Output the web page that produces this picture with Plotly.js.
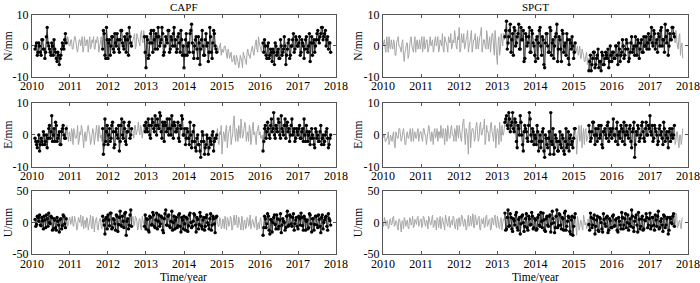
<!DOCTYPE html>
<html><head><meta charset="utf-8">
<script src="https://cdn.plot.ly/plotly-3.0.1.min.js"></script>
<style>html,body{margin:0;padding:0;background:#fff}#c{width:700px;height:283px}</style>
</head><body><div id="c"></div>
<script>
// sampling grid: each series has values at startYear + i*stepYear (A) and at startYear + halfStep + i*stepYear (B)
const startYear = 2010.0, stepYear = 0.04, halfStep = 0.02;
const stations = ['CAPF', 'SPGT'];
const components = ['N/mm', 'E/mm', 'U/mm'];
const xTicks = [2010, 2011, 2012, 2013, 2014, 2015, 2016, 2017, 2018];
// observed (black) periods per station, years
const capfObserved = [[2010.07, 2010.9], [2011.85, 2012.62], [2012.95, 2014.86], [2016.07, 2017.86]];
const spgtObserved = [[2013.19, 2015.05], [2015.39, 2017.65]];

const capfN = [
 null,null,-1,1,-2,0,-3,2,-1,-2,6,0,-2,1,-3,-1,-4,-2,-6,-3,1,-1,4,1,2,
 0,2,-1,3,1,-2,2,0,3,-1,1,2,-2,3,0,1,-1,2,3,-2,1,-1,5,-3,6,
 -4,2,0,3,-2,1,4,-1,2,5,0,3,-2,2,6,1,1,3,-1,4,2,0,5,1,3,
 -7,2,-3,4,1,5,-1,3,6,0,2,4,-2,3,1,5,-1,2,4,0,-2,3,1,5,-3,
 -7,2,-3,1,4,7,-2,0,3,-4,1,-1,5,-3,2,0,-5,6,-2,1,4,-1,0,-1,1,
 -1,-2,0,-3,-1,-4,-2,-5,-3,-6,-4,-7,-3,-5,-2,-4,-6,-1,-3,-2,0,-3,1,-1,3,
 0,-2,1,2,-3,0,-4,-1,-5,-2,1,-3,-1,-4,0,-2,3,-6,-1,2,-3,0,4,-1,2,
 0,3,-2,1,-4,2,-1,0,-5,3,1,-2,2,5,1,4,6,3,5,2,-1,1];
const capfNB = [
 null,null,0,-3,1,-2,2,-1,-4,3,1,-1,-3,0,2,-2,-5,-3,-4,-1,0,2,1,3,0,
 2,-1,1,3,-1,0,2,1,-2,3,0,2,1,-1,2,3,-1,1,2,0,3,-1,4,-4,2,
 1,-3,3,-1,4,0,2,-2,5,1,-1,2,4,-3,3,0,2,4,0,3,1,4,2,5,-2,
 3,-4,1,5,-2,2,4,-1,3,1,6,-3,0,2,5,-2,3,0,6,2,-1,4,-2,2,0,
 -3,4,0,-2,5,1,-4,2,-1,3,-6,2,0,-3,4,1,-2,3,-4,5,0,-2,-2,0,-3,
 -2,0,-1,-4,-2,-3,-5,-4,-6,-3,-5,-6,-4,-7,-3,-5,-2,-3,-4,-1,-2,-1,2,-2,1,
 -1,1,-2,0,-4,1,-3,-2,-1,-6,0,-2,-4,2,-3,-1,0,-3,1,-4,0,2,-2,3,0,
 1,-3,2,0,-1,3,-2,4,1,-3,2,0,4,2,3,6,2,4,0,3,1,-2];
const capfE = [
 null,null,-1,-3,-2,-5,-1,-3,0,-2,-4,2,-1,6,0,-2,3,-1,1,-3,2,0,-1,3,-2,
 0,2,-3,1,-1,3,-2,0,2,-4,1,-1,3,0,-2,2,-3,1,0,3,-1,-2,-6,5,1,
 -3,2,-1,4,-4,1,0,3,-2,5,-1,2,-3,1,4,0,2,-1,3,1,4,0,2,1,3,
 4,1,3,-1,5,2,6,0,3,7,1,4,-2,3,5,0,2,6,-1,3,1,4,-2,2,5,
 0,-3,2,-1,4,-4,1,-2,-5,0,-3,-7,1,-2,-4,0,-6,-1,-3,1,-2,-1,2,-3,0,
 -6,1,-2,3,-1,2,-3,0,6,-2,1,3,-1,2,0,4,-2,1,3,-3,2,0,-1,1,3,
 1,-1,-5,2,-1,4,0,3,1,7,-1,2,5,0,6,1,3,-1,4,2,0,5,1,-2,2,
 0,3,-1,2,5,-2,1,0,-3,2,-1,-4,1,0,-2,3,-1,-3,0,2,-4,-1];
const capfEB = [
 null,null,-2,-4,0,-3,-2,1,-3,0,-1,3,1,-2,2,4,-2,0,-3,1,3,-1,2,0,1,
 -2,1,2,-1,0,-3,1,3,-1,0,-2,2,1,-3,0,1,-1,3,-2,1,0,2,-3,-2,3,
 0,-2,3,1,-3,2,-1,-5,3,0,4,-2,1,3,-1,2,1,3,0,2,1,3,-1,2,1,
 2,5,0,3,4,1,3,5,2,6,-1,3,4,1,2,5,0,3,4,1,2,-1,3,6,0,
 2,-1,1,-3,0,-2,3,-4,-1,-3,-5,-2,0,-6,-3,-1,-4,-2,0,-5,-1,0,-2,1,3,
 -2,0,2,-4,1,3,-1,4,0,2,-2,1,5,-1,2,3,0,-2,2,-1,4,1,-3,2,0,
 -1,0,-2,3,1,2,-1,5,2,0,3,1,4,-1,2,0,5,3,1,-2,3,0,2,-1,1,
 2,-1,1,-2,0,3,-2,1,-1,0,-3,2,-1,-2,1,-3,0,-2,1,-1,-3,0];
const capfU = [
 null,null,5,-3,8,12,-5,3,10,-8,6,15,-2,8,-10,4,-12,2,-15,6,-5,10,-8,5,-3,
 8,2,-5,10,0,-8,5,12,-3,-10,4,8,-12,2,-6,10,-15,5,-8,0,7,-10,3,-18,8,
 12,-5,15,-8,4,-12,10,-3,18,-6,2,14,-20,6,-4,20,8,-5,10,2,-8,6,-12,4,-6,
 -10,5,-15,8,-3,12,-8,15,2,-6,10,-12,6,20,-4,12,-8,18,0,-10,8,-5,14,-15,4,
 10,-12,6,-5,15,-8,2,12,-15,5,-3,10,-10,8,-6,12,-4,6,-12,10,-2,8,2,-6,5,
 -8,3,10,-12,5,-3,8,-10,12,0,-6,9,-4,10,-12,4,-8,6,-2,-10,5,-6,8,-12,0,
 3,-5,-20,10,-8,14,-12,5,-15,8,-3,12,-10,4,-16,6,0,-8,18,-4,10,-6,14,-2,8,
 -10,6,15,-5,10,-12,4,-8,12,-15,6,-3,10,-8,5,-16,12,0,8,-6,14,3];
const capfUB = [
 null,null,-6,10,2,-4,8,-10,4,12,-6,0,10,-12,6,-8,8,-4,5,-10,12,-2,6,-6,8,
 -3,10,-6,4,-12,8,0,-6,10,2,-8,6,-4,12,-10,4,-2,8,-12,5,-6,10,-4,6,-10,
 4,15,-10,6,-2,12,-14,8,-4,10,-8,16,2,-10,12,-6,10,-4,8,-12,6,-8,10,-2,12,
 6,-12,10,-4,16,-6,4,-10,12,-2,8,-16,14,-4,10,-6,2,-12,10,4,-8,12,-6,8,-10,
 -2,8,-14,12,0,-6,14,-4,8,-10,16,-6,4,-12,8,0,-10,14,-4,6,-16,10,-6,8,-10,
 6,-10,2,8,-6,10,-12,4,-4,12,-8,2,-12,6,0,-10,8,-6,12,-4,2,-8,10,-4,-10,
 8,-12,-8,6,-2,10,-18,4,0,12,-10,6,-6,14,-4,2,-12,10,-6,12,-2,8,-12,4,-6,
 10,-4,8,-12,6,2,-10,14,-2,6,-12,10,-4,12,-6,8,-10,4,10,-12,6,-4];
const spgtN = [
 0,2,-2,1,3,-1,0,2,-3,1,3,0,-2,2,-5,-1,1,-3,2,0,-2,3,1,-1,2,
 1,-2,3,0,2,-1,3,1,-2,2,0,3,-1,1,4,-2,2,0,3,1,-1,2,5,0,3,
 6,-1,2,4,0,3,-2,1,5,0,2,-1,3,1,4,-2,2,0,5,-1,3,1,4,-3,2,
 -6,3,-1,2,4,3,8,1,5,-2,4,6,0,3,7,-1,2,5,-4,3,1,6,-2,4,0,
 -5,3,1,6,-3,2,-7,4,0,-2,5,1,-4,3,7,-1,2,-5,4,0,-3,2,-6,1,3,
 -4,1,-1,-3,0,-4,-2,-5,-3,-6,-8,-3,-6,-2,-7,-4,-1,-5,-8,-3,-6,-2,-4,-7,0,
 -5,-2,-4,0,-6,-1,-3,2,-4,-1,1,-5,-2,3,-1,-3,0,2,-4,1,-2,3,0,-1,4,
 2,6,0,4,1,-2,3,5,0,2,7,1,-3,4,2,6,3,5,0,3,-3,1];
const spgtNB = [
 1,-1,3,-2,0,2,-1,1,-3,2,0,-1,1,-3,-2,1,-4,0,3,-1,1,-2,2,0,-1,
 3,0,-1,2,-2,1,0,2,-1,3,1,-2,2,0,-1,3,1,-2,2,4,0,1,3,-1,2,
 -2,4,1,-1,2,5,0,3,-2,2,4,0,-1,3,6,0,2,-1,3,1,-2,4,0,5,-3,
 1,-3,4,0,2,5,-1,3,7,2,-3,5,1,4,-1,6,2,-5,4,0,3,-2,5,1,-3,
 2,-4,5,0,3,-6,1,4,-2,6,-3,2,0,4,-5,3,-1,5,-2,1,4,-4,2,-1,0,
 -2,-2,0,-2,-4,-1,-3,-5,-2,-4,-5,-8,-4,-2,-6,-3,-7,-5,-2,-6,-4,-3,-1,-5,-3,
 -2,-4,0,-3,1,-5,-2,0,-3,2,-1,-4,1,-2,0,3,-3,1,-1,2,-2,0,3,1,-1,
 3,1,5,-1,2,4,0,6,2,-2,3,5,0,2,6,4,1,2,-1,4,0,-4];
const spgtE = [
 -1,0,-2,-1,-3,0,-2,1,-4,0,-1,2,-2,1,0,-3,1,-1,2,0,-2,1,-1,2,0,
 1,-2,2,0,-1,3,-1,1,-3,2,0,-2,1,3,-1,0,2,-2,1,-1,3,0,2,-2,1,
 3,-1,2,5,-3,1,-6,4,0,2,-2,3,1,-1,4,0,2,-3,3,1,-1,4,0,2,-4,
 2,-3,1,3,0,4,6,2,5,3,7,1,4,-4,2,6,0,-5,3,1,-2,7,0,2,-3,
 -1,3,-5,0,-2,2,-7,-1,-4,1,7,-3,-6,0,-2,-5,1,-4,-1,-6,2,-3,-5,0,-2,
 -1,2,-6,1,-2,3,0,-3,2,-1,3,-2,1,4,-3,0,2,-1,3,-4,1,0,3,-2,2,
 -1,5,0,2,-3,1,3,-2,4,0,1,-1,3,-4,2,-7,1,3,-2,0,4,-1,2,0,3,
 6,0,-2,3,1,-3,2,0,-1,4,-2,1,-4,2,0,-1,3,-2,1,-4,0,-1];
const spgtEB = [
 0,-2,-1,1,-2,-1,0,-3,1,-1,2,0,-1,2,-3,0,-1,1,-2,2,0,-1,1,-2,1,
 -1,2,0,-3,1,2,-2,0,1,-1,2,1,-1,0,2,-3,1,3,-1,2,0,-2,1,3,-1,
 1,-2,4,0,2,-1,3,-4,2,1,-1,4,-2,3,0,2,5,-1,1,-2,3,1,-2,3,0,
 1,4,-2,0,2,5,3,7,1,4,2,5,-2,3,0,4,-3,1,2,-1,3,5,-2,1,0,
 -3,1,-2,-4,1,-5,0,-3,-1,-6,-2,2,-4,-1,-5,-2,-3,0,-5,-2,-4,1,-1,-3,-4,
 2,0,-2,3,-1,-4,2,1,-2,0,1,-1,4,0,2,-2,3,0,-3,1,2,-1,4,0,1,
 2,0,-2,4,0,-1,2,1,-3,3,0,2,-2,1,4,-3,0,2,-1,3,1,-2,4,0,2,
 1,3,-1,2,0,-2,3,1,-3,2,0,-1,1,-2,2,0,-3,1,-2,0,-3,2];
const spgtU = [
 0,8,-5,3,-8,6,-2,10,-4,2,-12,5,-15,3,8,-6,4,-10,6,0,-8,5,-3,10,-2,
 6,-4,8,-6,2,10,-3,5,-8,4,-12,6,0,-10,8,-4,12,-2,6,-8,4,10,-6,2,-12,
 8,-3,10,-6,4,-10,12,0,-5,14,-8,6,-2,10,-12,4,8,-6,12,-3,6,-10,2,8,-4,
 10,-8,4,-12,6,15,-10,20,-5,8,-14,3,12,-8,5,-18,10,0,-6,14,-12,6,-3,10,-8,
 4,-10,12,-6,2,15,-12,6,-4,10,-15,18,0,-8,20,-5,12,-10,6,15,-12,2,8,-18,10,
 -6,14,-20,4,-8,2,-12,5,0,-6,-3,15,-8,6,-18,4,-12,8,0,-15,5,-6,10,-12,3,
 -8,12,-5,6,-15,2,-10,8,-4,14,0,-12,6,20,-8,2,12,-15,5,-6,10,-10,3,8,-4,
 15,-6,8,-12,4,10,-10,2,-4,12,-8,6,-18,8,0,10,-6,15,-8,2,-5,6];
const spgtUB = [
 -6,4,2,-10,5,-4,8,-6,3,-8,6,-4,2,-10,5,0,-8,8,-4,10,-6,2,8,-6,4,
 -8,10,-2,4,-10,6,-4,12,-6,2,8,-8,10,-4,2,-12,6,-6,10,0,-4,8,-10,6,4,
 -6,12,-2,6,-12,4,-6,10,2,-8,12,-4,8,-10,6,-2,-8,10,-6,4,-12,8,-4,12,-8,
 4,-10,8,-2,4,-12,8,-6,14,-10,6,-4,16,-12,8,-2,12,-14,6,-8,10,-4,16,-10,6,
 -12,8,-4,16,-8,4,-14,10,-6,12,-2,6,-16,10,-8,14,-4,8,-12,18,-6,10,-14,4,-20,
 8,-6,10,-12,4,-8,12,-4,-10,6,-12,8,-4,12,-6,10,-14,6,-10,14,-2,8,-16,6,-8,
 10,-6,4,-12,8,-4,16,-10,6,-8,12,-2,-6,10,-14,8,-4,16,-10,6,-12,4,14,-8,6,
 -10,8,-4,12,-6,18,-8,6,-14,10,-4,8,-12,6,-2,14,-8,12,-6,4,-10,8];

const seriesA = [[capfN, capfE, capfU], [spgtN, spgtE, spgtU]];
const seriesB = [[capfNB, capfEB, capfUB], [spgtNB, spgtEB, spgtUB]];
const observed = [capfObserved, spgtObserved];
const yRanges = [[-10, 10], [-10, 10], [-50, 50]];
const yTicks = [[-10, 0, 10], [-10, 0, 10], [-50, 0, 50]];

const xDom = [[0.0457, 0.48], [0.547, 0.983]];
const yDom = [[0.728, 0.947], [0.410, 0.636], [0.102, 0.325]];
const FONT = 'Liberation Serif, Times New Roman, serif';
const frame = '#555555';

const traces = [];
const layout = {
  width: 700, height: 283, margin: {l: 0, r: 0, t: 0, b: 0},
  paper_bgcolor: '#fff', plot_bgcolor: '#fff', showlegend: false,
  font: {family: FONT, size: 12, color: '#000'}, annotations: []
};
let k = 0;
for (let r = 0; r < 3; r++) {
  for (let c = 0; c < 2; c++) {
    k++;
    const xa = 'xaxis' + (k === 1 ? '' : k), ya = 'yaxis' + (k === 1 ? '' : k);
    const xr = 'x' + (k === 1 ? '' : k), yr = 'y' + (k === 1 ? '' : k);
    const a = seriesA[c][r], b = seriesB[c][r];
    const xs = [], ys = [];
    for (let i = 0; i < a.length; i++) {
      xs.push(+(startYear + i * stepYear).toFixed(3)); ys.push(a[i]);
      if (i < b.length) { xs.push(+(startYear + halfStep + i * stepYear).toFixed(3)); ys.push(b[i]); }
    }
    const inObs = t => observed[c].some(p => t >= p[0] && t <= p[1]);
    const obsVals = ys.map((v, i) => inObs(xs[i]) ? v : null);
    traces.push({x: xs, y: ys, xaxis: xr, yaxis: yr, type: 'scatter', mode: 'lines',
      line: {color: '#a6a6a6', width: 1, simplify: false}, hoverinfo: 'skip', connectgaps: false});
    traces.push({x: xs, y: obsVals, xaxis: xr, yaxis: yr, type: 'scatter', mode: 'lines+markers',
      line: {color: '#2a2a2a', width: 0.9, simplify: false}, marker: {color: '#000', size: 3.4}, hoverinfo: 'skip', connectgaps: false});
    const common = {showgrid: false, zeroline: false, showline: true, linecolor: frame, linewidth: 1,
      mirror: 'ticks', ticks: 'inside', ticklen: 3, tickcolor: frame, tickwidth: 1,
      tickfont: {family: FONT, size: 12, color: '#000'}, fixedrange: true, ticklabeloverflow: 'allow'};
    layout[xa] = Object.assign({}, common, {domain: xDom[c], anchor: yr, range: [2010, 2018],
      tickvals: xTicks, ticktext: xTicks.map(String), ticklabelstandoff: -2});
    layout[ya] = Object.assign({}, common, {domain: yDom[r], anchor: xr, range: yRanges[r],
      tickvals: yTicks[r], ticktext: yTicks[r].map(String)});
    layout.annotations.push({text: components[r], xref: 'paper', yref: 'paper',
      x: c === 0 ? 0.011 : 0.511, y: (yDom[r][0] + yDom[r][1]) / 2, textangle: -90,
      showarrow: false, xanchor: 'center', yanchor: 'middle', font: {family: FONT, size: 11.5, color: '#000'}});
  }
}
for (let c = 0; c < 2; c++) {
  const cx = (xDom[c][0] + xDom[c][1]) / 2;
  layout.annotations.push({text: stations[c], xref: 'paper', yref: 'paper', x: cx, y: 0.975,
    showarrow: false, xanchor: 'center', yanchor: 'middle', font: {family: FONT, size: 11, color: '#000'}});
  layout.annotations.push({text: 'Time/year', xref: 'paper', yref: 'paper', x: cx, y: 0.021,
    showarrow: false, xanchor: 'center', yanchor: 'middle', font: {family: FONT, size: 11.5, color: '#000'}});
}
Plotly.newPlot('c', traces, layout, {staticPlot: true, displayModeBar: false});
</script></body></html>
